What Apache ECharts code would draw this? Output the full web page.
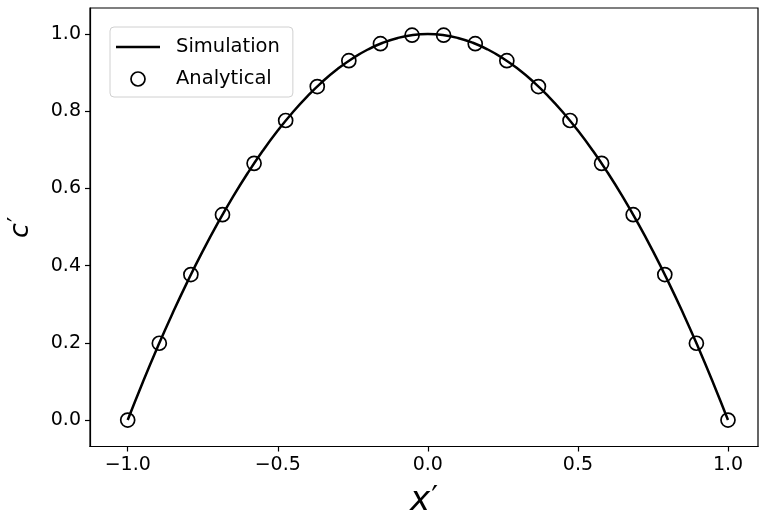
<!DOCTYPE html>
<html>
<head>
<meta charset="utf-8">
<script src="https://cdn.jsdelivr.net/npm/echarts@6/dist/echarts.min.js"></script>
<style>html,body{margin:0;padding:0;background:#fff}#c{width:759px;height:520px}</style>
</head>
<body>
<div id="c"></div>
<script>
// Simulation curve
const simX = [-1.00,-0.95,-0.90,-0.85,-0.80,-0.75,-0.70,-0.65,-0.60,-0.55,-0.50,-0.45,-0.40,-0.35,-0.30,-0.25,-0.20,-0.15,-0.10,-0.05,0.00,0.05,0.10,0.15,0.20,0.25,0.30,0.35,0.40,0.45,0.50,0.55,0.60,0.65,0.70,0.75,0.80,0.85,0.90,0.95,1.00];
const simY = [0.000,0.0975,0.190,0.2775,0.360,0.4375,0.510,0.5775,0.640,0.6975,0.750,0.7975,0.840,0.8775,0.910,0.9375,0.960,0.9775,0.990,0.9975,1.000,0.9975,0.990,0.9775,0.960,0.9375,0.910,0.8775,0.840,0.7975,0.750,0.6975,0.640,0.5775,0.510,0.4375,0.360,0.2775,0.190,0.0975,0.000];
// Analytical points
const anaX = [-1.0000,-0.8947,-0.7895,-0.6842,-0.5789,-0.4737,-0.3684,-0.2632,-0.1579,-0.0526,0.0526,0.1579,0.2632,0.3684,0.4737,0.5789,0.6842,0.7895,0.8947,1.0000];
const anaY = [0.000,0.199,0.377,0.532,0.665,0.776,0.864,0.931,0.975,0.997,0.997,0.975,0.931,0.864,0.776,0.665,0.532,0.377,0.199,0.000];
const xTicks = [-1.0,-0.5,0.0,0.5,1.0];
const yTicks = [0.0,0.2,0.4,0.6,0.8,1.0];

const font = 'DejaVu Sans';
const fmt = v => v.toFixed(1).replace('-', '\u2212');
const chart = echarts.init(document.getElementById('c'), null, {renderer:'canvas'});
chart.setOption({
  animation:false,
  backgroundColor:'#fff',
  grid:{left:90, top:8, right:1, bottom:73.5, outerBoundsMode:'none', containLabel:false,
        show:true, borderColor:'#000', borderWidth:1.2, backgroundColor:'transparent'},
  xAxis:{
    type:'value', min:-1.1256, max:1.1,
    name:'{i|x}{p|\u2032}', nameLocation:'middle', nameGap:38,
    nameTextStyle:{fontFamily:font, fontSize:34, color:'#000',
      rich:{i:{fontFamily:font, fontStyle:'italic', fontSize:34, color:'#000'},
            p:{fontFamily:font, fontSize:30, color:'#000', verticalAlign:'top', padding:[0,0,0,1]}}},
    axisLine:{show:true, onZero:false, lineStyle:{color:'#000', width:1.2}},
    axisTick:{show:true, length:5, lineStyle:{color:'#000', width:1.2}, customValues:xTicks},
    axisLabel:{fontFamily:font, fontSize:19, color:'#000', margin:9, formatter:fmt, customValues:xTicks},
    splitLine:{show:false}
  },
  yAxis:{
    type:'value', min:-0.0685, max:1.0675,
    name:'{i|c}{p|\u2032}', nameLocation:'middle', nameGap:56,
    nameTextStyle:{fontFamily:font, fontSize:27, color:'#000',
      rich:{i:{fontFamily:font, fontStyle:'italic', fontSize:27, color:'#000'},
            p:{fontFamily:font, fontSize:24, color:'#000', verticalAlign:'top', padding:[0,0,0,1]}}},
    axisLine:{show:true, onZero:false, lineStyle:{color:'#000', width:1.2}},
    axisTick:{show:true, length:5, lineStyle:{color:'#000', width:1.2}, customValues:yTicks},
    axisLabel:{fontFamily:font, fontSize:19, color:'#000', margin:9, formatter:fmt, customValues:yTicks},
    splitLine:{show:false}
  },
  legend:{
    orient:'vertical', left:110, top:27, 
    padding:[10,13,8,6], itemGap:12,
    borderColor:'#d0d0d0', borderWidth:1, borderRadius:4, backgroundColor:'rgba(255,255,255,0.8)',
    itemWidth:44, itemHeight:14,
    textStyle:{fontFamily:font, fontSize:19.5, color:'#000', padding:[0,0,0,11]},
    data:[
      {name:'Simulation', icon:'path://M0,0 L44,0 L44,2.5 L0,2.5 Z', itemStyle:{color:'#000'}},
      {name:'Analytical', icon:'circle', itemStyle:{color:'none', borderColor:'#000', borderWidth:1.7}}
    ]
  },
  series:[
    {name:'Simulation', type:'line', data:simX.map((x,i)=>[x,simY[i]]), showSymbol:false, smooth:true,
     lineStyle:{color:'#000', width:2.5}, itemStyle:{color:'#000'}, z:2},
    {name:'Analytical', type:'scatter', data:anaX.map((x,i)=>[x,anaY[i]]), symbol:'circle', symbolSize:14,
     itemStyle:{color:'none', borderColor:'#000', borderWidth:1.7, opacity:1}, z:3}
  ]
});
</script>
</body>
</html>
